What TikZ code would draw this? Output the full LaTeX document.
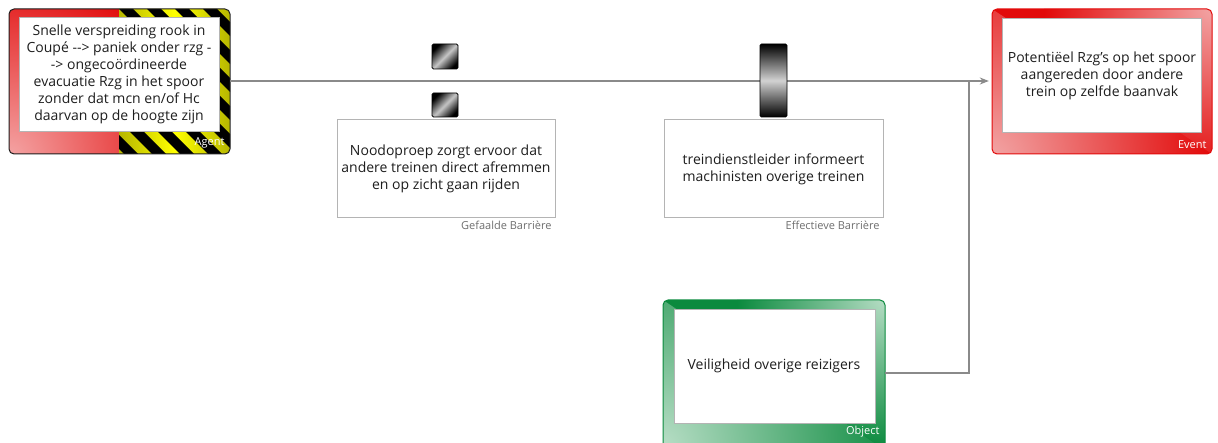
\documentclass[tikz,border=0pt]{standalone}
\usepackage{fontspec}
\setmainfont{Open Sans}
\usetikzlibrary{arrows.meta,calc}
\definecolor{ink}{HTML}{1E1E1E}
\definecolor{wire}{HTML}{8A8A8A}
\definecolor{framegray}{HTML}{B4B4B4}
\definecolor{tagray}{HTML}{6E6E6E}
\definecolor{hazred}{HTML}{E00000}
\definecolor{hazpink}{HTML}{F4A4A4}
\definecolor{hazyellow}{HTML}{E4E400}
\definecolor{evred}{HTML}{E20A0A}
\definecolor{evpink}{HTML}{F2A6A6}
\definecolor{obgreen}{HTML}{0B8A3E}
\definecolor{oblight}{HTML}{B8DEC6}
\tikzset{
  body/.style={font=\fontsize{14}{17}\selectfont, text=ink, align=center},
  tag/.style={font=\fontsize{11}{13}\selectfont},
  frame/.style={draw=none, minimum width=#1, inner sep=0pt},
  inner/.style={draw=framegray, line width=0.8pt, fill=white},
  barrierbox/.style={draw=framegray, line width=0.8pt, fill=white},
  link/.style={draw=wire, line width=1.2pt},
  chip/.style={draw=black, line width=0.8pt, rounded corners=1.5pt},
}
\begin{document}
\begin{tikzpicture}[x=1pt,y=-1pt]
\useasboundingbox (0,0) rectangle (1218,443);

% ---------- Agent ----------
\begin{scope}
  \clip[rounded corners=5pt] (9,9) rectangle (230,154);
  \fill[hazred] (9,9) rectangle (119,154);
  \begin{scope}
    \clip (9,9) rectangle (119,155);
    \shade[inner color=hazpink, outer color=hazred] (9,156) circle[radius=200];
  \end{scope}
  \begin{scope}
    \clip (119,9) rectangle (231,155);
    \shade[left color=hazyellow!80!black, right color=hazyellow!80!black, middle color=yellow] (119,9) rectangle (230,154);
    \foreach \i in {-6,...,4}
      \fill[black] ({119+\i*28},9) -- ({133+\i*28},9) -- ({278+\i*28},154) -- ({264+\i*28},154) -- cycle;
  \end{scope}
\end{scope}
\draw[ink, line width=1pt, rounded corners=5pt] (9,9) rectangle (230,154);
\node[frame=221pt, minimum height=145pt] (agent) at (119.5,81.5) {};
\draw[inner] (19,17) rectangle (219,131);
\node[body] (agenttext) at (119,74.5) {Snelle verspreiding rook in\\Coupé -{}-> paniek onder rzg -\\-> ongecoördineerde\\evacuatie Rzg in het spoor\\zonder dat mcn en/of Hc\\daarvan op de hoogte zijn};
\node[tag, text=white, anchor=south east] (agenttag) at (228,152) {Agent};

% ---------- Event ----------
\begin{scope}
  \clip[rounded corners=5pt] (992,9) rectangle (1212,154);
  \fill[evred] (992,9) rectangle (1212,154);
  \begin{scope}
    \clip (992,9) -- (1212,154) -- (992,154) -- cycle;
    \shade[inner color=evpink, outer color=evred] (990,157) circle[radius=220];
  \end{scope}
  \begin{scope}
    \clip (992,9) -- (1212,9) -- (1212,154) -- cycle;
    \shade[inner color=evpink, outer color=evred] (1214,7) circle[radius=170];
  \end{scope}
\end{scope}
\draw[evred, line width=1pt, rounded corners=5pt] (992,9) rectangle (1212,154);
\node[frame=220pt, minimum height=145pt] (event) at (1102,81.5) {};
\draw[inner] (1002,18) rectangle (1201,132);
\node[body] (eventtext) at (1102,75.5) {Potentiëel Rzg's op het spoor\\aangereden door andere\\trein op zelfde baanvak};
\node[tag, text=white, anchor=south east] (eventtag) at (1210,152) {Event};

% ---------- Object ----------
\begin{scope}
  \clip[rounded corners=5pt] (663,300) rectangle (885,450);
  \fill[obgreen] (663,300) rectangle (885,450);
  \begin{scope}
    \clip (663,300) -- (885,450) -- (663,450) -- cycle;
    \shade[inner color=oblight, outer color=obgreen] (661,446) circle[radius=240];
  \end{scope}
  \begin{scope}
    \clip (663,300) -- (885,300) -- (885,450) -- cycle;
    \shade[inner color=oblight, outer color=obgreen] (887,298) circle[radius=150];
  \end{scope}
\end{scope}
\draw[obgreen, line width=1pt, rounded corners=5pt] (663,300) rectangle (885,450);
\node[frame=222pt, minimum height=146pt] (object) at (774,373) {};
\draw[inner] (674,309) rectangle (875,423);
\node[body] (objecttext) at (774,366) {Veiligheid overige reizigers};
\node[tag, text=white, anchor=south east] (objecttag) at (883,441) {Object};

% ---------- Barriers ----------
\node[barrierbox, minimum width=218pt, minimum height=98pt, inner sep=0pt] (bar1) at (446,168) {};
\node[body] (bar1text) at (446,169) {Noodoproep zorgt ervoor dat\\andere treinen direct afremmen\\en op zicht gaan rijden};
\node[tag, text=tagray, anchor=north east] (bar1tag) at (555,218) {Gefaalde Barrière};

\node[barrierbox, minimum width=219pt, minimum height=98pt, inner sep=0pt] (bar2) at (773.5,168) {};
\node[body] (bar2text) at (773.5,169) {treindienstleider informeert\\machinisten overige treinen};
\node[tag, text=tagray, anchor=north east] (bar2tag) at (883,218) {Effectieve Barrière};

% ---------- Connectors ----------
\coordinate (join) at (969,81);
\draw[link, -{Stealth[length=9pt,width=7pt]}, shorten >=3pt] (agent.east |- join) -- (event.west |- join);
\draw[link] (object.east) -| (join);

% ---------- Barrier markers on the main line ----------
\node[chip, minimum width=26pt, minimum height=25pt, inner sep=0pt,
      top color=black, bottom color=black, middle color=gray!45, shading angle=45] (fail1) at (445,56.5) {};
\node[chip, minimum width=26pt, minimum height=24pt, inner sep=0pt,
      top color=black, bottom color=black, middle color=gray!45, shading angle=45] (fail2) at (445,105) {};
\node[chip, minimum width=27pt, minimum height=73pt, inner sep=0pt,
      top color=black, bottom color=black, middle color=gray!35] (hold) at (773.5,80.5) {};
\end{tikzpicture}
\end{document}
